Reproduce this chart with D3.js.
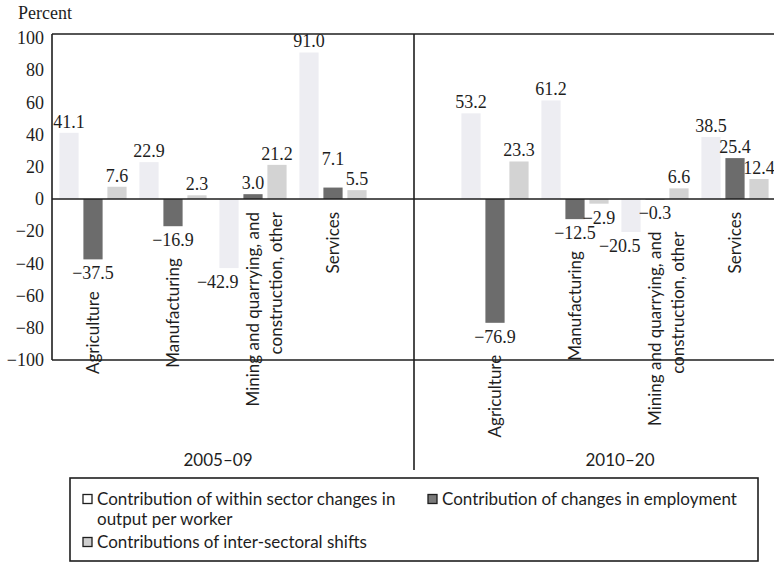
<!DOCTYPE html>
<html><head><meta charset="utf-8">
<script src="https://cdn.jsdelivr.net/npm/d3@7/dist/d3.min.js"></script>
<style>body{margin:0;background:#fff}</style>
</head><body><svg id="chart" width="774" height="564"></svg>
<script>
// ---------- data ----------
const periods = ["2005–09", "2010–20"];
const sectors = ["Agriculture", "Manufacturing", "Mining", "Services"];
const sectorLabels = [["Agriculture"], ["Manufacturing"], ["Mining and quarrying, and", "construction, other"], ["Services"]];
const seriesKeys = ["within", "employment", "shifts"];
const seriesLabels = [["Contribution of within sector changes in", "output per worker"], ["Contribution of changes in employment"], ["Contributions of inter-sectoral shifts"]];
const within2005 = [41.1, 22.9, -42.9, 91.0];
const employment2005 = [-37.5, -16.9, 3.0, 7.1];
const shifts2005 = [7.6, 2.3, 21.2, 5.5];
const within2010 = [53.2, 61.2, -20.5, 38.5];
const employment2010 = [-76.9, -12.5, -0.3, 25.4];
const shifts2010 = [23.3, -2.9, 6.6, 12.4];
const yTicks = [-100, -80, -60, -40, -20, 0, 20, 40, 60, 80, 100];

const values = {
  "2005–09": {within: within2005, employment: employment2005, shifts: shifts2005},
  "2010–20": {within: within2010, employment: employment2010, shifts: shifts2010}
};

// ---------- style ----------
const colors = {within: "#ededf2", employment: "#6c6c6c", shifts: "#d3d3d3"};
const swatch = {within: "#ffffff", employment: "#7a7a7a", shifts: "#cfcfcf"};
const ink = "#1e1e1e";
const SERIF = "'Liberation Serif', 'Times New Roman', serif";
const SANS = "Lato, 'Open Sans', sans-serif";

const svg = d3.select("#chart");

// ---------- scales ----------
const y = d3.scaleLinear().domain([-100, 100]).range([360, 38]);
const frame = {left: 52, right: 776, top: 34, divider: 414, dividerBottom: 470};
const panelRange = {"2005–09": [53, 373], "2010–20": [455, 775]};
const x0 = {};
periods.forEach(p => { x0[p] = d3.scaleBand().domain(sectors).range(panelRange[p]).paddingInner(0).paddingOuter(0); });
const x1 = d3.scaleBand().domain(seriesKeys).range([0, x0[periods[0]].bandwidth()]).paddingInner(0.2).paddingOuter(0.267);

const fmt = v => (v < 0 ? "\u2212" : "") + Math.abs(v).toFixed(1);

// ---------- bars ----------
const bars = [];
periods.forEach(p => sectors.forEach((s, i) => seriesKeys.forEach(k => {
  bars.push({period: p, sector: s, idx: i, key: k, v: values[p][k][i]});
})));

svg.append("g").selectAll("rect").data(bars).join("rect")
  .attr("x", d => x0[d.period](d.sector) + x1(d.key))
  .attr("width", x1.bandwidth())
  .attr("y", d => y(Math.max(0, d.v)))
  .attr("height", d => Math.abs(y(d.v) - y(0)))
  .attr("fill", d => colors[d.key]);

// ---------- value labels ----------
bars.forEach(d => {
  const left = x0[d.period](d.sector) + x1(d.key);
  // negative "within" labels sit flush with the bar's right edge (clear of the category text)
  d.anchor = (d.key === "within" && d.v < 0) ? "end" : "middle";
  d.lx = d.anchor === "end" ? left + x1.bandwidth() : left + x1.bandwidth() / 2;
  d.ly = d.v >= 0 ? y(d.v) - 5 : y(d.v) + 20;
});
// avoid collisions between neighbouring positive labels in a group
periods.forEach(p => sectors.forEach(s => {
  const g = bars.filter(b => b.period === p && b.sector === s);
  for (let i = g.length - 2; i >= 0; i--) {
    const a = g[i], b = g[i + 1];
    if (a.v >= 0 && b.v >= 0 && Math.abs(a.ly - b.ly) < 16) a.ly = Math.min(a.ly, b.ly) - 18;
  }
}));

svg.append("g").selectAll("text").data(bars).join("text")
  .attr("x", d => d.lx).attr("y", d => d.ly)
  .attr("text-anchor", d => d.anchor)
  .style("font-family", SERIF).style("font-size", "18px").attr("fill", ink)
  .text(d => fmt(d.v));

// ---------- frame ----------
const lines = svg.append("g").attr("stroke", ink).attr("stroke-width", 1.6);
lines.append("line").attr("x1", frame.left).attr("x2", frame.right).attr("y1", frame.top).attr("y2", frame.top);
lines.append("line").attr("x1", frame.left).attr("x2", frame.right).attr("y1", y(0)).attr("y2", y(0));
lines.append("line").attr("x1", frame.left).attr("x2", frame.right).attr("y1", y(-100)).attr("y2", y(-100));
lines.append("line").attr("x1", frame.left).attr("x2", frame.left).attr("y1", frame.top).attr("y2", y(-100));
lines.append("line").attr("x1", frame.divider).attr("x2", frame.divider).attr("y1", frame.top).attr("y2", frame.dividerBottom);

// ---------- y axis ----------
const yAxis = svg.append("g").attr("transform", `translate(${frame.left},0)`)
  .call(d3.axisLeft(y).tickValues(yTicks).tickSize(0).tickPadding(8).tickFormat(v => (v < 0 ? "\u2212" : "") + Math.abs(v)));
yAxis.select(".domain").remove();
yAxis.selectAll("text").style("font-family", SERIF).style("font-size", "18px").attr("fill", ink);

svg.append("text").attr("x", 18).attr("y", 19)
  .style("font-family", SERIF).style("font-size", "18px").attr("fill", ink).text("Percent");

// ---------- category labels ----------
periods.forEach(p => sectors.forEach((s, i) => {
  const lows = [values[p].employment[i], values[p].shifts[i]];
  const mn = Math.min(0, ...lows);
  const top = mn < 0 ? y(mn) + 32 : y(0) + 13;
  const cx = x0[p](s) + x0[p].bandwidth() / 2;
  const t = svg.append("text")
    .attr("transform", `translate(${cx},${top}) rotate(-90)`)
    .attr("text-anchor", "end")
    .style("font-family", SANS).style("font-size", "17px").attr("fill", ink);
  sectorLabels[i].forEach((ln, j) => {
    t.append("tspan").attr("x", 0).attr("y", 0).attr("dy", (0.35 + j * 1.35) + "em").text(ln);
  });
}));

// ---------- period labels ----------
svg.append("g").selectAll("text").data(periods).join("text")
  .attr("x", p => x0[p].range()[0] + (x0[p].range()[1] - x0[p].range()[0]) / 2 + 5)
  .attr("y", 466)
  .attr("text-anchor", "middle")
  .style("font-family", SANS).style("font-size", "17px").attr("fill", ink)
  .text(p => p);

// ---------- legend ----------
const lg = svg.append("g");
lg.append("rect").attr("x", 70).attr("y", 478).attr("width", 688).attr("height", 83)
  .attr("fill", "none").attr("stroke", ink).attr("stroke-width", 1.6);
const legendPos = [{x: 83, y: 499}, {x: 428, y: 499}, {x: 83, y: 542}];
seriesKeys.forEach((k, i) => {
  const pos = legendPos[i];
  lg.append("rect").attr("x", pos.x).attr("y", pos.y - 4.5).attr("width", 9).attr("height", 9)
    .attr("fill", swatch[k]).attr("stroke", ink).attr("stroke-width", 1.3);
  const t = lg.append("text").style("font-family", SANS).style("font-size", "17px").attr("fill", ink);
  seriesLabels[i].forEach((ln, j) => {
    t.append("tspan").attr("x", pos.x + 14).attr("y", pos.y + 6 + j * 20).text(ln);
  });
});
</script>
</body></html>
